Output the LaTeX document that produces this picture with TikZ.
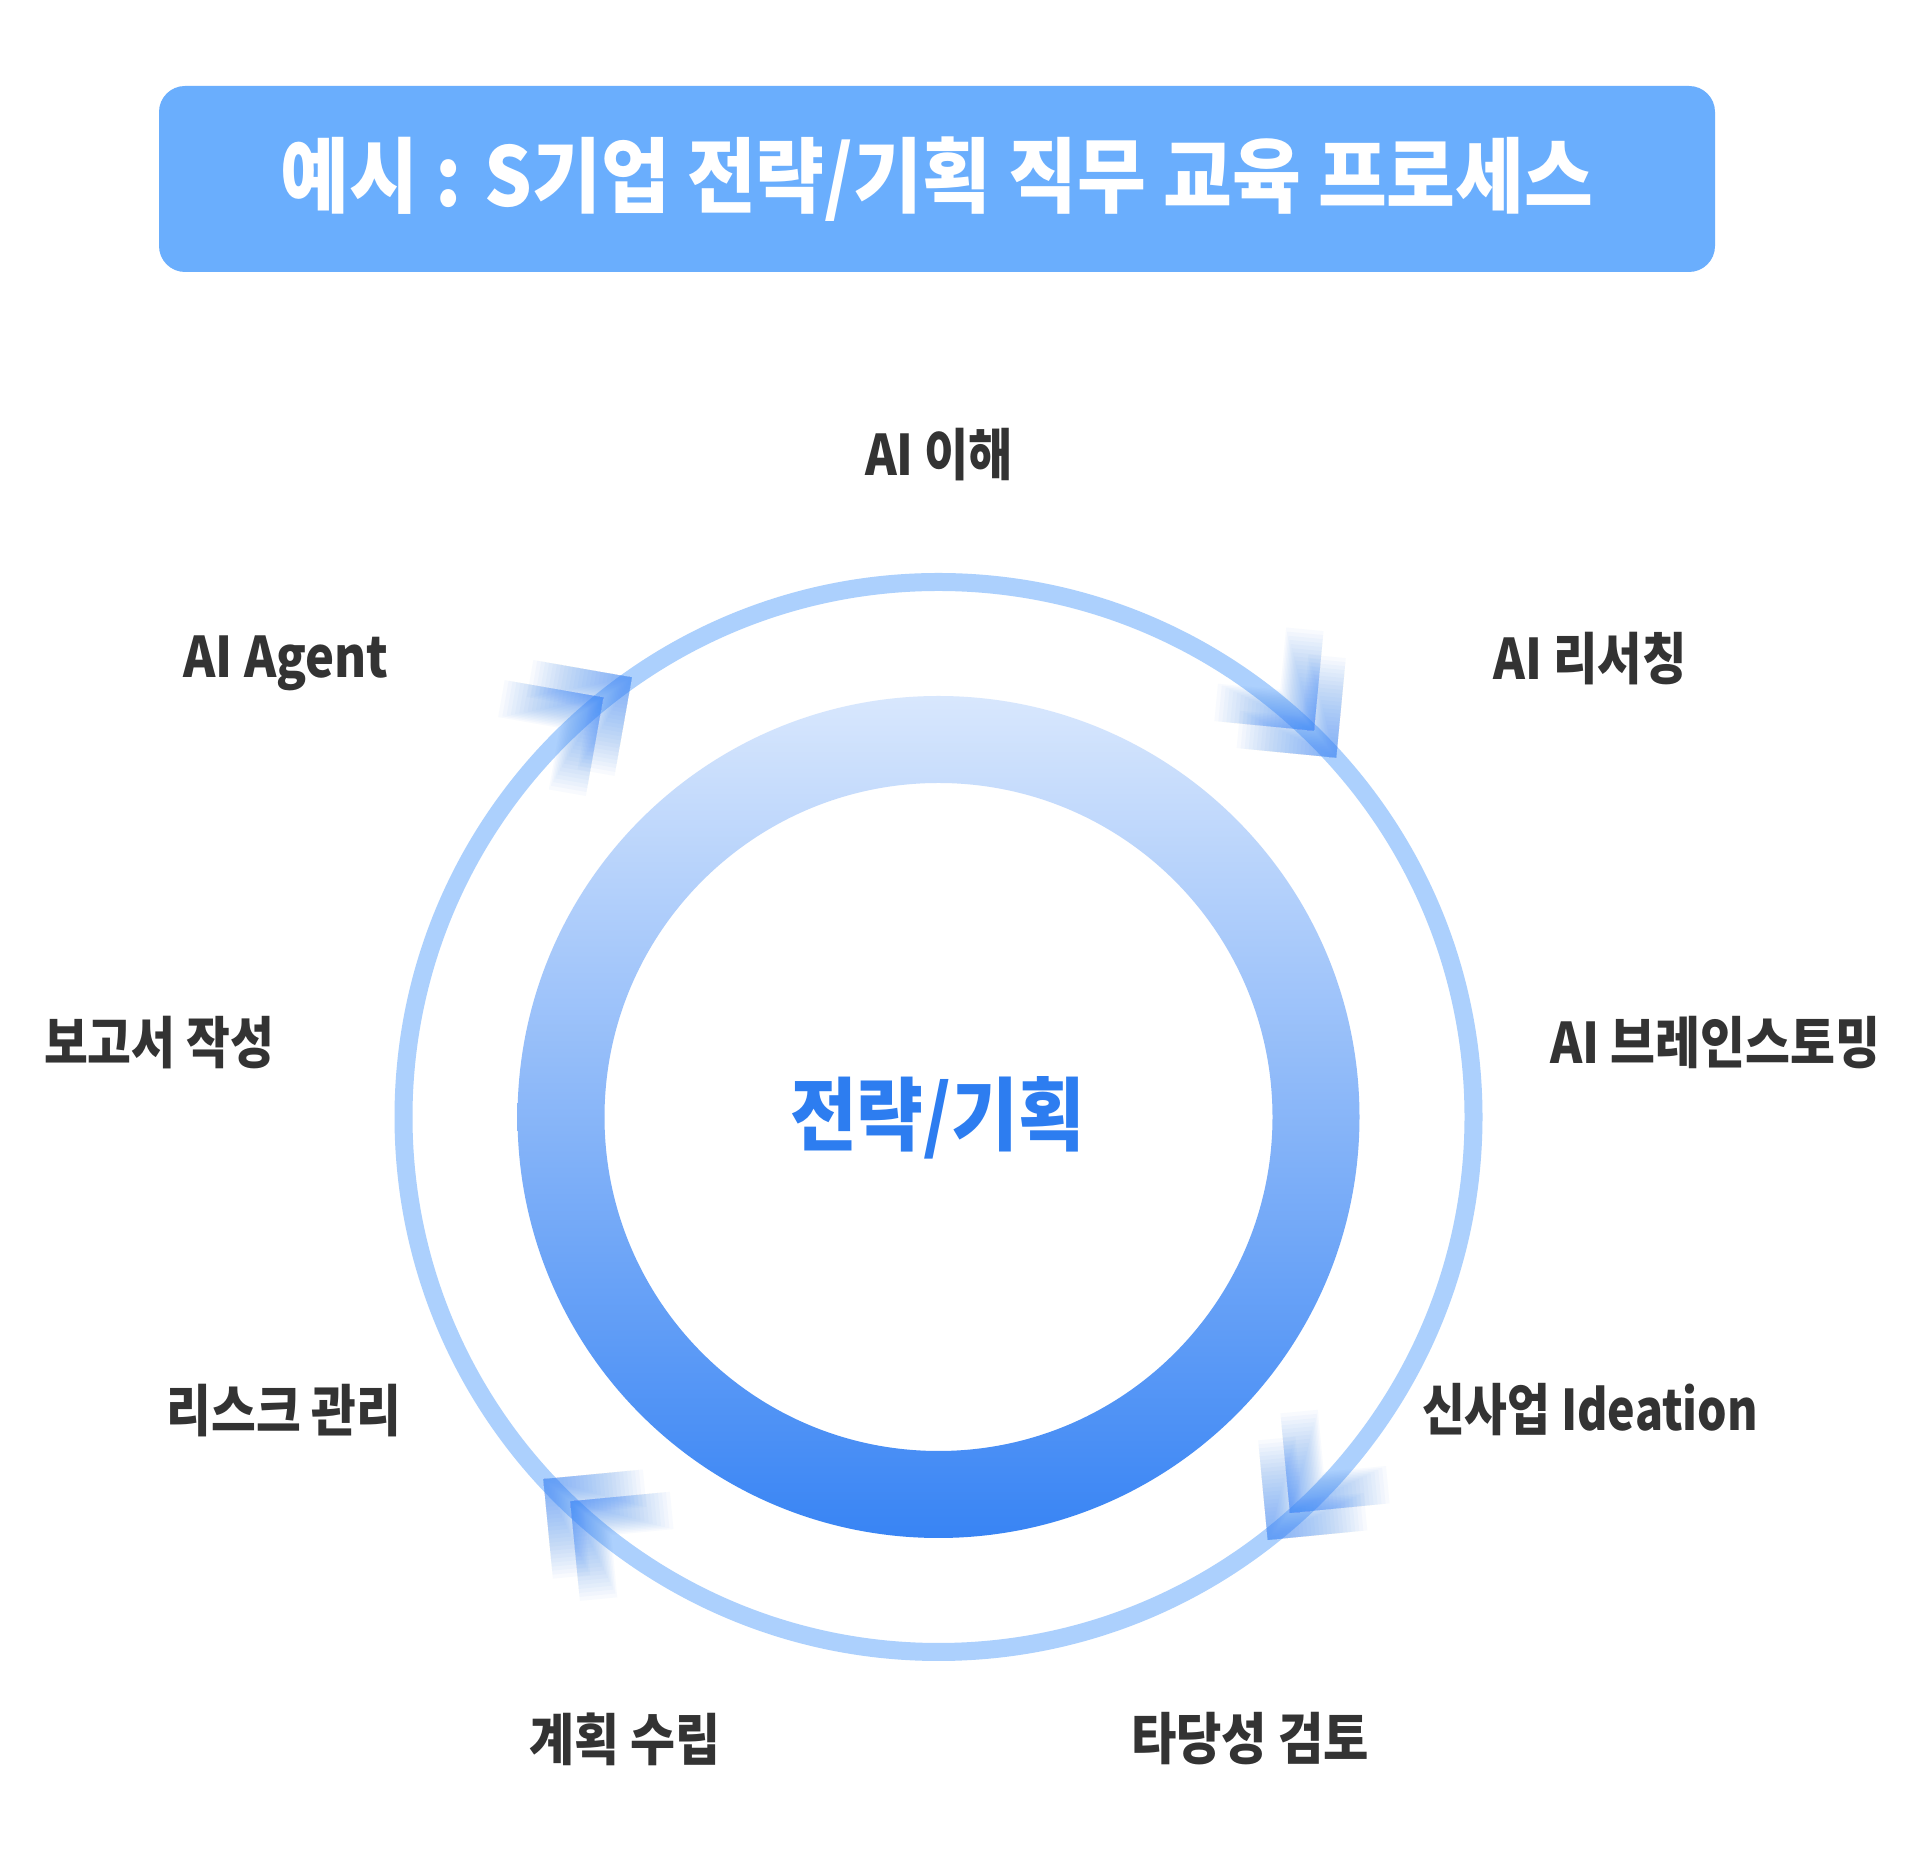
\documentclass[tikz,border=0pt]{standalone}
\usepackage{fontspec}
\usepackage{graphicx}
\usetikzlibrary{calc}
\newfontfamily\krfont{Noto Sans CJK KR}
\definecolor{titlebg}{RGB}{106,174,253}
\definecolor{outerring}{RGB}{172,208,253}
\definecolor{ringtop}{RGB}{216,231,253}
\definecolor{ringbot}{RGB}{56,132,244}
\definecolor{centerblue}{RGB}{45,125,240}
\definecolor{labelgray}{RGB}{51,51,51}
\definecolor{chevblue}{RGB}{60,136,246}
\tikzset{
  titlebox/.style={fill=titlebg, rounded corners=26pt, minimum width=1556pt, minimum height=186pt, inner sep=0pt, text=white, font=\krfont\bfseries\fontsize{82}{90}\selectfont},
  lbl/.style={text=labelgray, inner sep=0pt, font=\krfont\bfseries\fontsize{56}{62}\selectfont},
  centertext/.style={text=centerblue, inner sep=0pt, font=\krfont\bfseries\fontsize{80}{88}\selectfont},
  outerringstyle/.style={draw=outerring, line width=18pt},
  innerring/.style={top color=ringtop, bottom color=ringbot, even odd rule},
  chevfill/.style={fill=chevblue, fill opacity=0.036}
}
\newcommand{\chevronpair}[2]{%
  \begin{scope}[shift={(#1)}, rotate=#2]
    \foreach \off in {0,24.75}{
      \foreach \k in {1,...,25}{
        \pgfmathsetmacro\cl{4*\k}
        \pgfmathsetmacro\cw{1.5*\k}
        \fill[chevfill, shift={(-\off,-\off)}] (0,0) -- (-\cl,0) -- (-\cl,-\cw) -- (-\cw,-\cw) -- (-\cw,-\cl) -- (0,-\cl) -- cycle;
      }
    }
  \end{scope}}
\begin{document}
\begin{tikzpicture}[x=1pt,y=1pt]
\useasboundingbox (0,0) rectangle (1920,1853);
\fill[white] (0,0) rectangle (1920,1853);
\coordinate (C) at (938.5,736);

% title
\node[titlebox] (title) at (937,1674) {\resizebox{1313pt}{\height}{예시 : S기업 전략/기획 직무 교육 프로세스}};

% rings
\draw[outerringstyle] (C) circle[radius=535];
\shade[innerring] (C) circle[radius=421] (C) circle[radius=334];

% arrowheads
\coordinate (a1) at ($(C)+(124.9:536)$);
\coordinate (a2) at ($(C)+(42.1:536)$);
\coordinate (a3) at ($(C)+(-52.1:536)$);
\coordinate (a4) at ($(C)+(-137.5:536)$);
\chevronpair{a1}{-10}
\chevronpair{a2}{-95.5}
\chevronpair{a3}{-174.5}
\chevronpair{a4}{95.5}

% center text
\node[centertext] (center) at (937.5,735) {\resizebox{295pt}{\height}{전략/기획}};

% labels
\node[lbl] (l1) at (939,1398) {\resizebox{148pt}{\height}{AI 이해}};
\node[lbl] (l2) at (1590,1194) {\resizebox{193pt}{\height}{AI 리서칭}};
\node[lbl] (l3) at (1715,810) {\resizebox{330pt}{\height}{AI 브레인스토밍}};
\node[lbl] (l4) at (1590,443) {\resizebox{336pt}{\height}{신사업 Ideation}};
\node[lbl] (l5) at (1250,114) {\resizebox{238pt}{\height}{타당성 검토}};
\node[lbl] (l6) at (625,114) {\resizebox{191pt}{\height}{계획 수립}};
\node[lbl] (l7) at (284,442) {\resizebox{235pt}{\height}{리스크 관리}};
\node[lbl] (l8) at (159,810) {\resizebox{230pt}{\height}{보고서 작성}};
\node[lbl] (l9) at (286,1190) {\resizebox{205pt}{\height}{AI Agent}};
\end{tikzpicture}
\end{document}
